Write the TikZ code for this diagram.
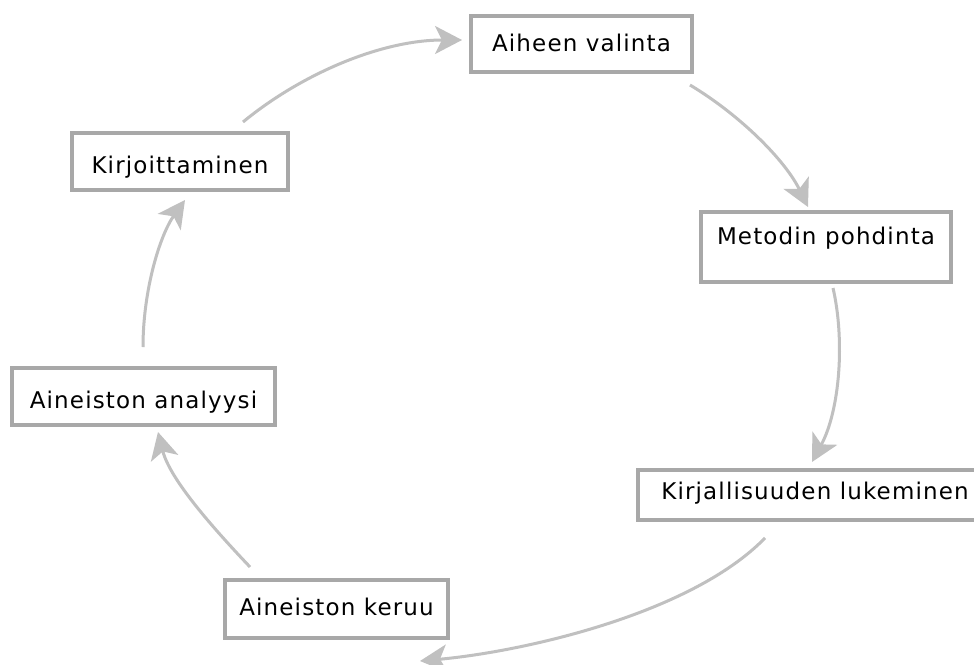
\documentclass[tikz,border=0pt]{standalone}
\usepackage{fontspec}
\setmainfont[LetterSpace=5]{DejaVu Sans}
\usetikzlibrary{arrows.meta}
\definecolor{boxc}{HTML}{A8A8A8}
\definecolor{arrc}{HTML}{C0C0C0}
\begin{document}
\begin{tikzpicture}[x=1pt,y=-1pt,
  stepbox/.style={draw=boxc, line width=3.2pt, fill=white, anchor=base,
    inner xsep=0pt, inner ysep=0pt, font=\fontsize{23}{25}\selectfont},
  flow/.style={draw=arrc, line width=3pt,
    -{Stealth[length=27pt,width=28pt,inset=7pt]}}]
\path[use as bounding box, fill=white] (0,0) rectangle (974,664);

\node[stepbox, minimum width=221pt, text height=35pt, text depth=21pt] (b1) at (581.5,51) {Aiheen valinta};
\node[stepbox, minimum width=250pt, text height=32pt, text depth=38pt] (b2) at (826,244) {Metodin pohdinta};
\node[stepbox, minimum width=354pt, text height=29pt, text depth=21pt] (b3) at (815,499) {Kirjallisuuden lukeminen};
\node[stepbox, minimum width=223pt, text height=35pt, text depth=23pt] (b4) at (336.5,615) {Aineiston keruu};
\node[stepbox, minimum width=263pt, text height=40pt, text depth=17pt] (b5) at (143.5,408) {Aineiston analyysi};
\node[stepbox, minimum width=216pt, text height=40pt, text depth=17pt] (b6) at (180,173) {Kirjoittaminen};

\coordinate (s1) at (243,122);
\coordinate (e1) at (462,40);
\coordinate (s2) at (690,85);
\coordinate (e2) at (808,207);
\coordinate (s3) at (833,288);
\coordinate (e3) at (812,462);
\coordinate (s4) at (765,538);
\coordinate (e4) at (420,661);
\coordinate (s5) at (250,567);
\coordinate (e5) at (158,432);
\coordinate (s6) at (143,347);
\coordinate (e6) at (185,200);

\draw[flow] (s1) .. controls (300,75) and (380,40) .. (e1);
\draw[flow] (s2) .. controls (740,115) and (785,160) .. (e2);
\draw[flow] (s3) .. controls (845,340) and (840,410) .. (e3);
\draw[flow] (s4) .. controls (690,615) and (520,652) .. (e4);
\draw[flow] (s5) .. controls (215,530) and (170,480) .. (e5);
\draw[flow] (s6) .. controls (143,290) and (160,235) .. (e6);
\end{tikzpicture}
\end{document}
